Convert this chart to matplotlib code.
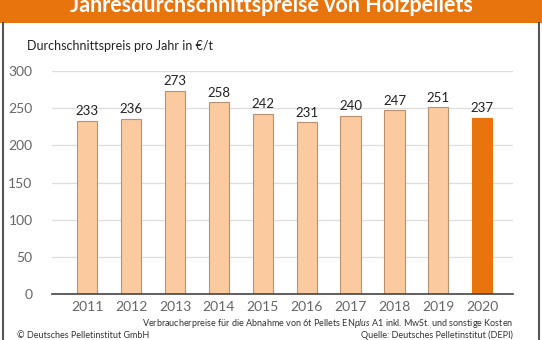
import matplotlib
matplotlib.use("Agg")
import matplotlib.pyplot as plt
from matplotlib.patches import Rectangle
from matplotlib.lines import Line2D

plt.rcParams['font.family'] = ['Lato', 'DejaVu Sans']
plt.rcParams['mathtext.fontset'] = 'custom'
plt.rcParams['mathtext.it'] = 'Lato:italic'

years = ['2011', '2012', '2013', '2014', '2015', '2016', '2017', '2018', '2019', '2020']
prices = [233, 236, 273, 258, 242, 231, 240, 247, 251, 237]
y_ticks = [0, 50, 100, 150, 200, 250, 300]

light = '#FBCB9F'
light_edge = '#B89072'
dark = '#E8740E'

fig = plt.figure(figsize=(5.42, 3.40), dpi=100)
fig.patch.set_facecolor('white')

# header band + frame
fig.add_artist(Rectangle((0, 1 - 23 / 340), 1, 23 / 340, transform=fig.transFigure,
                         facecolor=dark, edgecolor='none'))
fig.add_artist(Line2D([3 / 542, 3 / 542], [0, 1 - 23 / 340], transform=fig.transFigure,
                      color='#555555', lw=1.5))
fig.add_artist(Line2D([539 / 542, 539 / 542], [0, 1 - 23 / 340], transform=fig.transFigure,
                      color='#555555', lw=1.5))
fig.text(0.5, 1 - 6 / 340, 'Jahresdurchschnittspreise von Holzpellets', color='white',
         fontsize=15.5, fontweight='bold', ha='center', va='center')

fig.text(27 / 542, 1 - 46 / 340, 'Durchschnittspreis pro Jahr in €/t', fontsize=9,
         color='#222222', va='center')

ax = fig.add_axes([52 / 542, 1 - 294 / 340, 461 / 542, 223 / 340])
x = list(range(len(years)))
colors = [light] * (len(years) - 1) + [dark]
edges = [light_edge] * (len(years) - 1) + [dark]
ax.bar(x, prices, width=0.46, color=colors, edgecolor=edges, linewidth=0.8, zorder=3)
for xi, p in zip(x, prices):
    ax.text(xi, p + 5, str(p), ha='center', va='bottom', fontsize=9.5, color='#222222')

ax.set_xlim(-0.8, 9.7)
ax.set_ylim(0, 300)
ax.set_yticks(y_ticks)
ax.set_xticks(x)
ax.set_xticklabels(years)
ax.tick_params(axis='both', length=0, labelsize=10, labelcolor='#666666')
ax.tick_params(axis='y', pad=14)
ax.tick_params(axis='x', pad=5)
ax.grid(axis='y', color='#DDDDDD', lw=0.9, zorder=0)
for s in ['top', 'right', 'left']:
    ax.spines[s].set_visible(False)
ax.spines['bottom'].set_color('#444444')
ax.spines['bottom'].set_linewidth(1.2)
ax.spines['bottom'].set_zorder(4)

fig.text(513 / 542, 1 - 324 / 340,
         'Verbraucherpreise für die Abnahme von 6t Pellets EN$\\it{plus}$ A1 inkl. MwSt. und sonstige Kosten',
         fontsize=6.5, color='#333333', ha='right', va='center')
fig.text(513 / 542, 1 - 335 / 340, 'Quelle: Deutsches Pelletinstitut (DEPI)',
         fontsize=6.5, color='#333333', ha='right', va='center')
fig.text(17 / 542, 1 - 335 / 340, '© Deutsches Pelletinstitut GmbH',
         fontsize=6.5, color='#333333', ha='left', va='center')

fig.savefig('out.png', dpi=100)
